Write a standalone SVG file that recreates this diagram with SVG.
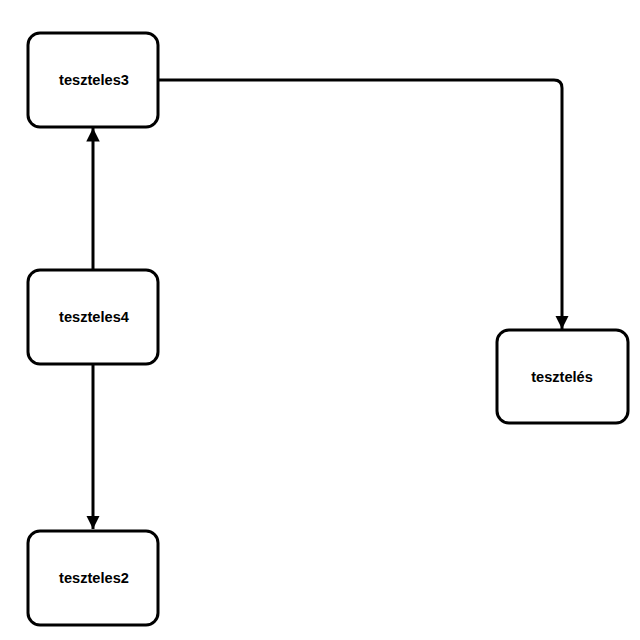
<svg xmlns="http://www.w3.org/2000/svg" width="640" height="640" viewBox="0 0 640 640">
<style>
.node rect{fill:#fff;stroke:#000;stroke-width:3}
.node text{font-family:"Liberation Sans",Arial,sans-serif;font-size:14.6px;font-weight:bold;text-anchor:middle;dominant-baseline:central;fill:#000}
.edge{fill:none;stroke:#000;stroke-width:3}
</style>
<defs>
<marker id="arrow" viewBox="0 0 10 10" refX="10" refY="5" markerWidth="4.5" markerHeight="4.5" orient="auto" markerUnits="strokeWidth">
<path d="M0,0 L10,5 L0,10 z" fill="#000"/>
</marker>
</defs>
<rect width="640" height="640" fill="#fff"/>
<g id="connectors">
<path class="edge" d="M158,80 H554 Q562,80 562,88 V329" marker-end="url(#arrow)"/>
<path class="edge" d="M93,269 V128" marker-end="url(#arrow)"/>
<path class="edge" d="M93,365 V529" marker-end="url(#arrow)"/>
</g>
<g id="teszteles3" class="node"><rect x="28" y="33" width="130" height="94" rx="12"/><text x="94" y="80">teszteles3</text></g>
<g id="teszteles4" class="node"><rect x="28" y="270" width="130" height="94" rx="12"/><text x="94" y="317">teszteles4</text></g>
<g id="teszteles2" class="node"><rect x="28" y="531" width="130" height="94" rx="12"/><text x="94" y="578">teszteles2</text></g>
<g id="tesztelés" class="node"><rect x="497" y="330" width="131" height="93" rx="12"/><text x="562" y="377">tesztelés</text></g>
</svg>
